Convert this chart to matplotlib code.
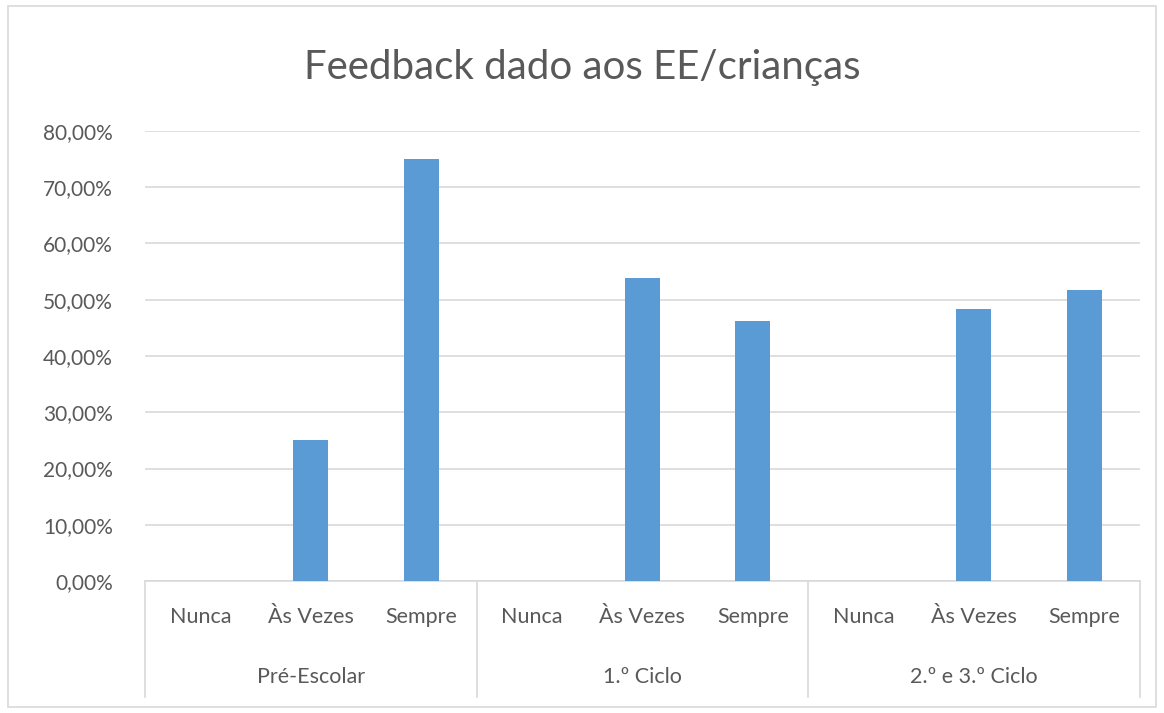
import matplotlib
matplotlib.use("Agg")
import matplotlib.pyplot as plt
from matplotlib.patches import Rectangle
from matplotlib.ticker import FuncFormatter

groups = ["Pré-Escolar", "1.º Ciclo", "2.º e 3.º Ciclo"]
answers = ["Nunca", "Às Vezes", "Sempre"]
pre_escolar = [0.0, 25.0, 75.0]
ciclo_1 = [0.0, 53.85, 46.15]
ciclo_2_3 = [0.0, 48.28, 51.72]

values = pre_escolar + ciclo_1 + ciclo_2_3
labels = answers * len(groups)

text_color = "#595959"
line_color = "#d9d9d9"
bar_color = "#5b9bd5"
plt.rcParams["font.family"] = ["Lato", "DejaVu Sans"]

fig = plt.figure(figsize=(11.64, 7.13), dpi=100)
fig.patches.append(Rectangle((0.007, 0.008), 0.986, 0.984, transform=fig.transFigure,
                             fill=False, edgecolor=line_color, linewidth=1.2))
ax = fig.add_axes([0.1246, 0.1851, 0.8544, 0.6312])

x = list(range(len(values)))
ax.bar(x, values, width=0.32, color=bar_color, zorder=3)

ax.set_xlim(-0.5, len(values) - 0.5)
ax.set_ylim(0, 80)
ax.set_yticks(range(0, 81, 10))
ax.yaxis.set_major_formatter(FuncFormatter(lambda v, p: f"{v:.2f}%".replace(".", ",")))
ax.grid(axis="y", color=line_color, linewidth=1.2, zorder=0)
ax.tick_params(axis="y", length=0, labelsize=15, labelcolor=text_color, pad=23)
ax.set_xticks([])
for s in ["top", "right", "left"]:
    ax.spines[s].set_visible(False)
ax.spines["bottom"].set_color(line_color)
ax.spines["bottom"].set_linewidth(1.2)

trans = ax.get_xaxis_transform()
for i, lab in enumerate(labels):
    ax.text(i, -0.08, lab, transform=trans, ha="center", va="center",
            fontsize=15.5, color=text_color)
for g, name in enumerate(groups):
    ax.text(g * 3 + 1, -0.213, name, transform=trans, ha="center", va="center",
            fontsize=15.5, color=text_color)
for b in range(len(groups) + 1):
    ax.plot([b * 3 - 0.5, b * 3 - 0.5], [0, -0.258], transform=trans,
            color=line_color, linewidth=1.2, clip_on=False)

fig.text(0.5, 0.905, "Feedback dado aos EE/crianças", ha="center", va="center",
         fontsize=29, color=text_color)

fig.savefig("out.png", dpi=100)
